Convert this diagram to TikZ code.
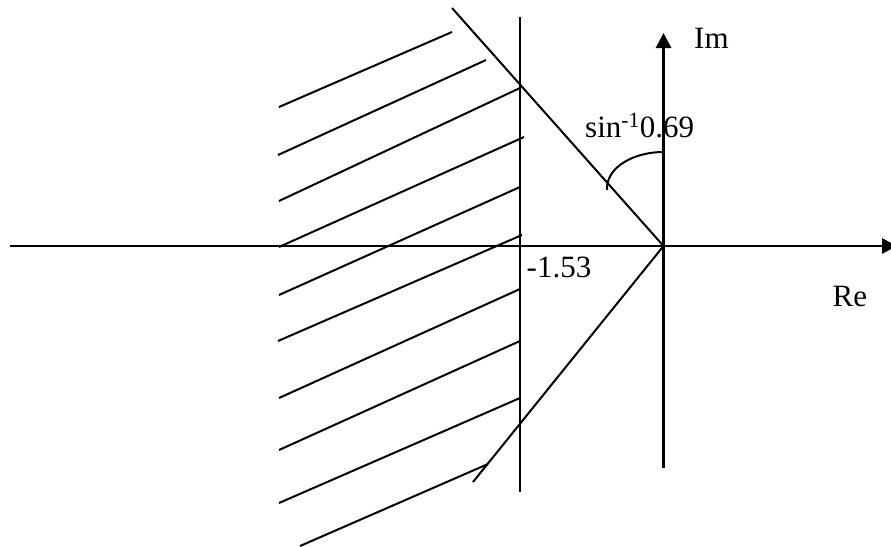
\documentclass[tikz,border=0pt]{standalone}
\usepackage{fontspec}
\setmainfont{Liberation Serif}
\usetikzlibrary{arrows.meta}
\tikzset{
  axis/.style={line width=2.8pt, -{Triangle[length=15pt,width=15pt]}},
  bound/.style={line width=2.3pt},
  hatch/.style={line width=2pt},
  ray/.style={line width=2pt},
  lbl/.style={inner sep=0pt, anchor=base west, font=\fontsize{31}{37}\selectfont}
}
\begin{document}
\begin{tikzpicture}[x=1pt,y=-1pt]
\useasboundingbox (0,0) rectangle (891,546);
% key points
\coordinate (O) at (663.5,246);
\coordinate (reL) at (10,246);
\coordinate (reR) at (897,246);
\coordinate (imB) at (663.5,468);
\coordinate (imT) at (663.5,33);
\coordinate (vT) at (520,17);
\coordinate (vB) at (520,492);
\coordinate (dT) at (452,8);
\coordinate (dB) at (473,482);
% hatch lines
\foreach \i/\ax/\ay/\bx/\by in {1/279/107/452/32, 2/278/155/486/60, 3/279/201/520/88,
  4/279/247/524/137, 5/279/295/520/187, 6/278/341/522/235, 7/279/398/520/289,
  8/279/450/520/341, 9/279/503/520/398, 10/300/546/488/464}{
  \coordinate (h\i a) at (\ax,\ay);
  \coordinate (h\i b) at (\bx,\by);
  \draw[hatch] (h\i a) -- (h\i b);
}
% boundary line Re = -1.53
\draw[bound] (vT) -- (vB);
% damping rays
\draw[ray] (dT) -- (O) -- (dB);
% axes
\draw[axis] (reL) -- (reR);
\draw[axis] (imB) -- (imT);
% angle arc
\coordinate (arcS) at (663.5,152);
\draw[line width=2pt] (arcS) arc[start angle=90, end angle=183, x radius=56.5pt, y radius=36pt];
% labels
\node[lbl] (im) at (694,48.3) {Im};
\node[lbl] (re) at (832.5,306) {Re};
\node[lbl] (val) at (526.5,277.3) {-1.53};
\node[lbl] (ang) at (585,137) {sin\textsuperscript{-1}0.69};
\end{tikzpicture}
\end{document}
